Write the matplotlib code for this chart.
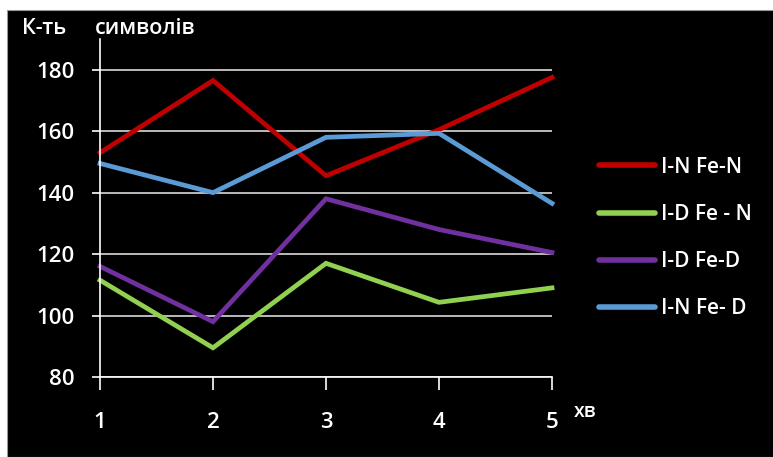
import matplotlib.pyplot as plt
from matplotlib.patches import Rectangle

# data
x = [1, 2, 3, 4, 5]
series_names = ['I-N Fe-N', 'I-D Fe - N', 'I-D Fe-D', 'I-N Fe- D']
in_fen = [153, 176.5, 145.5, 160.5, 177.5]
id_fen = [111.5, 89.5, 117, 104.3, 109]
id_fed = [116, 98, 138, 128, 120.5]
in_fed = [149.5, 140, 158, 159.3, 136.5]
yticks = [80, 100, 120, 140, 160, 180]

colors = ['#C00000', '#92D050', '#7030A0', '#5B9BD5']
fonts = ['Open Sans', 'DejaVu Sans']
plt.rcParams['font.family'] = fonts
plt.rcParams['font.weight'] = 'semibold'

W, H = 773, 457
fig = plt.figure(figsize=(W/100, H/100), dpi=100, facecolor='white')
# black slide area (white strip on top and left)
fig.patches.append(Rectangle((7/W, 0), 1, (H-10)/H, transform=fig.transFigure,
                             facecolor='black', edgecolor='#999999', lw=0.8, zorder=-5))

ax = fig.add_axes([100/W, 80/H, 452/W, 338/H])
ax.set_facecolor('black')

for vals, name, c in zip([in_fen, id_fen, id_fed, in_fed], series_names, colors):
    ax.plot(x, vals, color=c, lw=3.4, label=name, solid_joinstyle='miter', clip_on=False)

ax.set_xlim(1, 5)
ax.set_ylim(80, 190)
ax.set_xticks(x)
ax.set_yticks(yticks)
ax.yaxis.grid(True, color='#d9d9d9', lw=1.2)
ax.set_axisbelow(True)
for s in ['top', 'right']:
    ax.spines[s].set_visible(False)
for s in ['left', 'bottom']:
    ax.spines[s].set_color('white')
    ax.spines[s].set_linewidth(1.2)
ax.tick_params(axis='x', colors='white', length=9, width=1.2, pad=16, labelsize=16)
ax.tick_params(axis='y', colors='white', length=6, width=1.2, pad=12, labelsize=16)

fig.text(22/W, 1-34/H, 'К-ть', color='white', fontsize=15.5, va='baseline')
fig.text(95/W, 1-34/H, 'символів', color='white', fontsize=15.5, va='baseline')
fig.text(574/W, 1-417/H, 'хв', color='white', fontsize=14, va='baseline')

leg = ax.legend(loc='upper left', bbox_to_anchor=(580/W, 1-138/H), bbox_transform=fig.transFigure,
                frameon=False, fontsize=15, labelcolor='white', handlelength=2.7,
                handletextpad=0.3, labelspacing=1.25)
for line in leg.get_lines():
    line.set_linewidth(4)
    line.set_solid_capstyle('round')

fig.savefig('out.png', dpi=100, facecolor=fig.get_facecolor())
